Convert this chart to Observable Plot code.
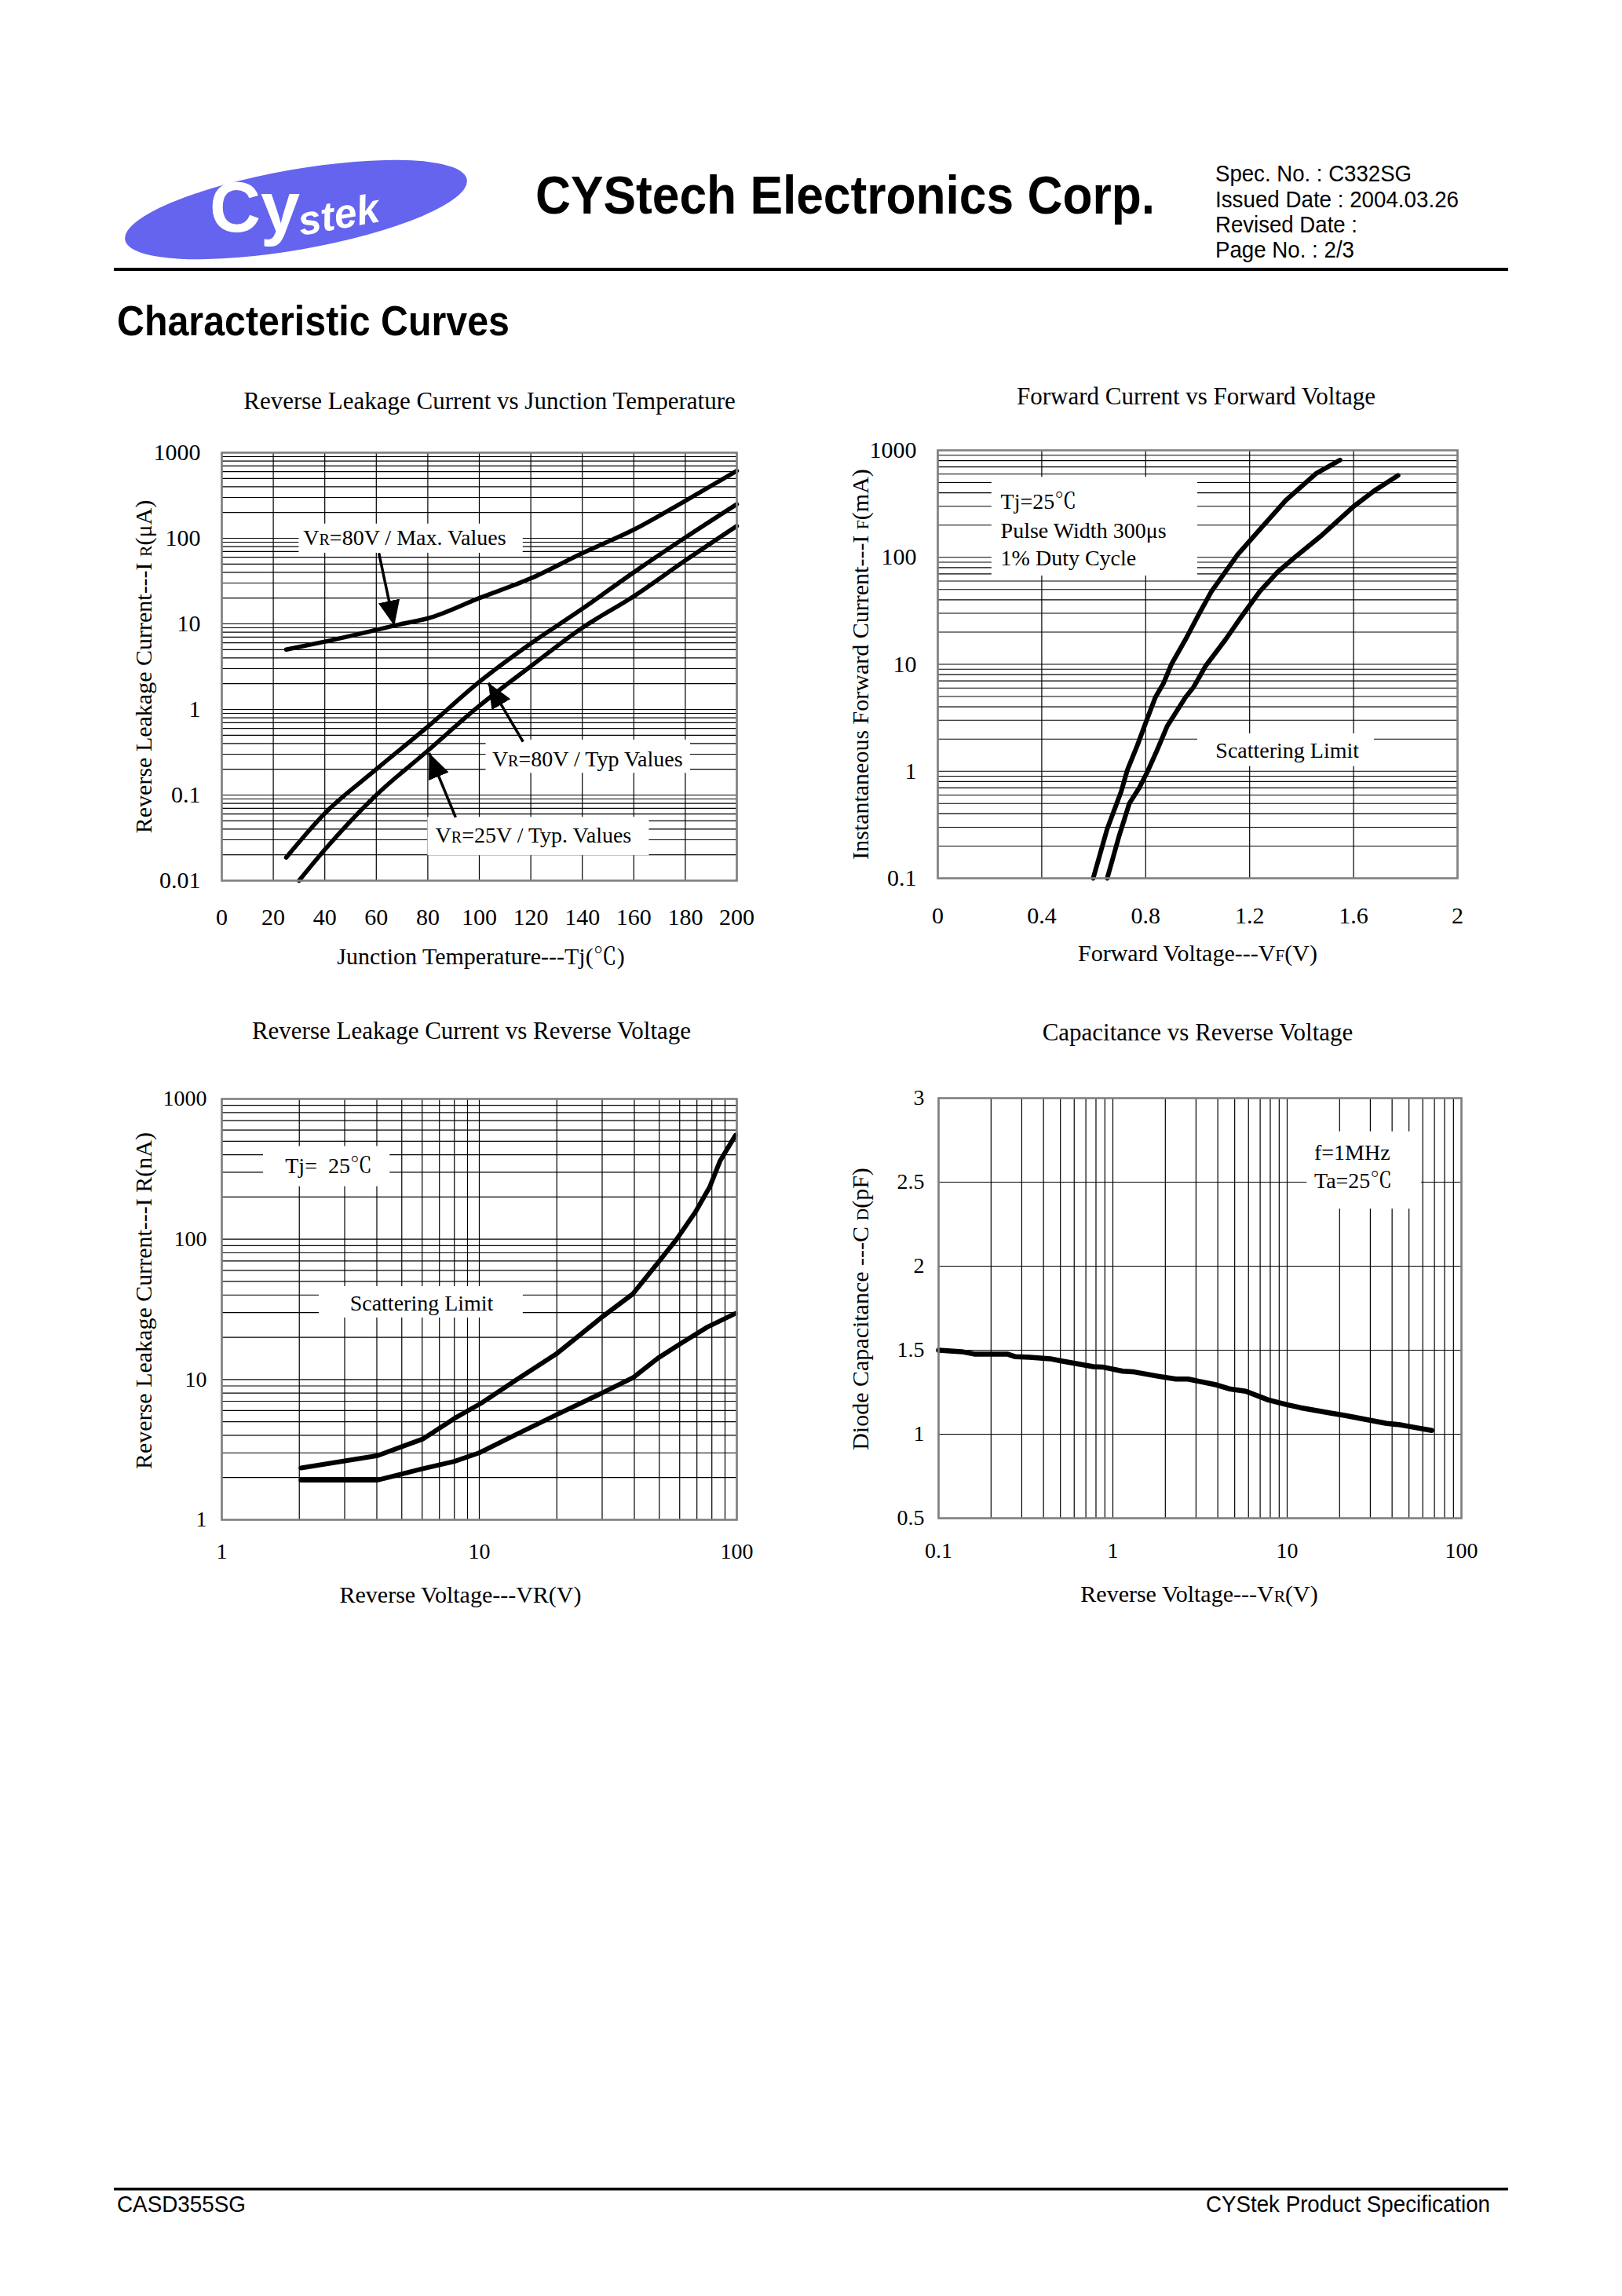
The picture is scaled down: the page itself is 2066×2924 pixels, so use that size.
<!DOCTYPE html>
<html>
<head>
<meta charset="utf-8">
<script src="https://cdn.jsdelivr.net/npm/d3@7"></script>
<script src="https://cdn.jsdelivr.net/npm/@observablehq/plot@0.6"></script>
<style>
  html, body { margin: 0; padding: 0; background: #fff; }
  body { width: 2066px; height: 2924px; position: relative; overflow: hidden; }
</style>
</head>
<body>
<svg id="page" width="2066" height="2924" style="position:absolute;left:0;top:0">
  <!-- company logo -->
  <ellipse cx="377" cy="267" rx="221" ry="51" fill="#6464ee" transform="rotate(-10 377 267)"/>
  <text x="267" y="295" font-family="'Liberation Sans', Arial, sans-serif" font-weight="bold" font-size="90" fill="#fff">Cy</text>
  <text transform="translate(383 300) rotate(-10)" font-family="'Liberation Sans', Arial, sans-serif" font-weight="bold" font-style="italic" font-size="52" fill="#fff">stek</text>
  <!-- header -->
  <text x="682" y="272" font-family="'Liberation Sans', Arial, sans-serif" font-weight="bold" font-size="68" textLength="789" lengthAdjust="spacingAndGlyphs">CYStech Electronics Corp.</text>
  <g font-family="'Liberation Sans', Arial, sans-serif" font-size="29">
    <text x="1548" y="231" textLength="250" lengthAdjust="spacingAndGlyphs">Spec. No. : C332SG</text>
    <text x="1548" y="264" textLength="310" lengthAdjust="spacingAndGlyphs">Issued Date : 2004.03.26</text>
    <text x="1548" y="296" textLength="181" lengthAdjust="spacingAndGlyphs">Revised Date :</text>
    <text x="1548" y="328" textLength="177" lengthAdjust="spacingAndGlyphs">Page No. : 2/3</text>
  </g>
  <rect x="145" y="341" width="1776" height="4" fill="#000"/>
  <text x="149" y="427" font-family="'Liberation Sans', Arial, sans-serif" font-weight="bold" font-size="54" textLength="500" lengthAdjust="spacingAndGlyphs">Characteristic Curves</text>
  <!-- footer -->
  <rect x="145" y="2786" width="1776" height="3.5" fill="#000"/>
  <g font-family="'Liberation Sans', Arial, sans-serif" font-size="29">
    <text x="149" y="2817" textLength="164" lengthAdjust="spacingAndGlyphs">CASD355SG</text>
    <text x="1898" y="2817" text-anchor="end" textLength="362" lengthAdjust="spacingAndGlyphs">CYStek Product Specification</text>
  </g>
</svg>
<script>
// ---------- Reverse leakage current vs junction temperature (µA) ----------
const tjTicks = [0, 20, 40, 60, 80, 100, 120, 140, 160, 180, 200];
const tjLeakTicks = [0.01, 0.1, 1, 10, 100, 1000];
const maxT = [25, 40, 60, 70, 80, 100, 120, 140, 160, 180, 200];
const maxI = [5.0, 6.2, 8.5, 10, 11.6, 20, 34, 67, 126, 274, 614];
const typ80T = [25, 40, 60, 80, 100, 120, 140, 160, 180, 200];
const typ80I = [0.0186, 0.061, 0.2, 0.63, 2.1, 5.9, 15, 40, 102, 250];
const typ25T = [30, 40, 60, 80, 100, 120, 140, 160, 180, 200];
const typ25I = [0.01, 0.023, 0.1, 0.33, 1.1, 3.2, 9, 21, 55, 139];
const tjNoteText = ["VR=80V / Max. Values", "VR=80V / Typ Values", "VR=25V / Typ. Values"];
const tjNoteT = [71, 142, 121];
const tjNoteI = [102, 0.26, 0.034];
const tjBoxT1 = [30, 102.6, 80];
const tjBoxT2 = [117, 182, 166];
const tjBoxI1 = [67, 0.18, 0.0196];
const tjBoxI2 = [147, 0.44, 0.055];
const tjArrowT1 = [61, 117, 90.8];
const tjArrowI1 = [67, 0.42, 0.055];
const tjArrowT2 = [67, 103.5, 80.5];
const tjArrowI2 = [9.5, 2.05, 0.31];

// ---------- Forward current vs forward voltage (mA) ----------
const vfTicks = [0, 0.4, 0.8, 1.2, 1.6, 2];
const ifTicks = [0.1, 1, 10, 100, 1000];
const fwdLowV = [0.598, 0.652, 0.706, 0.729, 0.768, 0.806, 0.837, 0.868, 0.899, 0.953, 1.0, 1.053, 1.154, 1.246, 1.339, 1.455, 1.548];
const fwdLowI = [0.1, 0.29, 0.65, 1.02, 1.75, 3.1, 4.9, 6.6, 10, 17, 28, 48, 106, 190, 340, 605, 810];
const fwdHighV = [0.652, 0.698, 0.737, 0.775, 0.806, 0.845, 0.883, 0.953, 0.984, 1.03, 1.107, 1.169, 1.239, 1.308, 1.378, 1.478, 1.601, 1.679, 1.771];
const fwdHighI = [0.1, 0.25, 0.5, 0.70, 0.98, 1.6, 2.65, 4.9, 6.1, 9.6, 17, 28, 48, 73, 102, 161, 300, 418, 583];
const fwdNoteText = ["Tj=25℃", "Pulse Width 300μs", "1% Duty Cycle"];
const fwdNoteV = [0.242, 0.242, 0.242];
const fwdNoteI = [333, 177, 98];
const fwdLimitText = ["Scattering Limit"];
const fwdLimitV = [1.345];
const fwdLimitI = [1.56];
const fwdBoxV1 = [0.208, 1.0];
const fwdBoxV2 = [1.0, 1.68];
const fwdBoxI1 = [67, 1.11];
const fwdBoxI2 = [560, 2.24];

// ---------- Reverse leakage current vs reverse voltage (nA) ----------
const vrTicks = [1, 10, 100];
const irTicks = [1, 10, 100, 1000];
const revHighV = [2.03, 4.03, 6.06, 8.0, 10.2, 14, 19.9, 29.9, 39.5, 49.4, 58.4, 69, 78.6, 86, 98.9];
const revHighI = [2.34, 2.87, 3.78, 5.28, 6.8, 10, 15.2, 27.8, 40.8, 68, 100, 156, 237, 360, 552];
const revLowV = [2.03, 4.03, 5.95, 8.0, 9.99, 14, 19.9, 29.9, 39.5, 49.4, 61.6, 77, 98.9];
const revLowI = [1.92, 1.92, 2.3, 2.61, 3.0, 4.08, 5.6, 8.0, 10.3, 14.2, 18.4, 23.7, 29.6];
const revNoteText = ["Tj=  25℃", "Scattering Limit"];
const revNoteV = [2.6, 5.97];
const revNoteI = [333, 34.8];
const revBoxV1 = [1.45, 2.39];
const revBoxV2 = [4.5, 14.8];
const revBoxI1 = [237, 27.5];
const revBoxI2 = [458, 46];

// ---------- Capacitance vs reverse voltage (pF) ----------
const capVTicks = [0.1, 1, 10, 100];
const capTicks = [0.5, 1, 1.5, 2, 2.5, 3];
const capV = [0.1, 0.136, 0.16, 0.248, 0.276, 0.333, 0.438, 0.5, 0.774, 0.87, 1.14, 1.3, 1.84, 2.3, 2.7, 3.95, 4.65, 5.78, 7.8, 9.96, 11.9, 17.4, 21.6, 29.9, 37.2, 43.8, 50.2, 67.6];
const capC = [1.5, 1.491, 1.477, 1.477, 1.461, 1.458, 1.449, 1.437, 1.402, 1.4, 1.375, 1.372, 1.344, 1.328, 1.328, 1.293, 1.27, 1.256, 1.204, 1.176, 1.158, 1.127, 1.111, 1.083, 1.064, 1.057, 1.046, 1.022];
const capNoteText = ["f=1MHz", "Ta=25℃"];
const capNoteV = [14.3, 14.3];
const capNoteC = [2.675, 2.505];
const capBoxV1 = [13];
const capBoxV2 = [59];
const capBoxC1 = [2.34];
const capBoxC2 = [2.80];

// ---------- helpers ----------
const serif = "'Liberation Serif', 'Times New Roman', 'Noto Serif CJK TC', 'Noto Sans CJK TC', serif";
const zip = (a, b) => a.map((v, i) => ({x: v, y: b[i]}));
const idx = (a) => a.map((_, i) => i);

// gridline values for a log axis: 1..9 × each decade
function logGrid(lo, hi) {
  const v = [];
  for (let e = Math.round(Math.log10(lo)); e < Math.round(Math.log10(hi)); e++)
    for (let k = 1; k < 10; k++) v.push(+(k * Math.pow(10, e)).toPrecision(3));
  v.push(hi);
  return v;
}

// draw the letter after V / I / C smaller, as in "VR", "I F", "C D"
function shrinkSubscripts(svg) {
  const ns = "http://www.w3.org/2000/svg";
  svg.querySelectorAll("text, tspan").forEach((node) => {
    if (node.children.length) return;
    const s = node.textContent;
    const re = /(V|I |C )([RFD])(?=[=(])/g;
    if (!re.test(s)) return;
    re.lastIndex = 0;
    node.textContent = "";
    let last = 0, m;
    while ((m = re.exec(s))) {
      const cut = m.index + m[1].length;
      node.appendChild(document.createTextNode(s.slice(last, cut)));
      const t = document.createElementNS(ns, "tspan");
      t.setAttribute("font-size", "0.72em");
      t.textContent = m[2];
      node.appendChild(t);
      last = cut + 1;
    }
    node.appendChild(document.createTextNode(s.slice(last)));
  });
}

// solid triangular arrowheads
function fillArrowheads(svg) {
  const ns = "http://www.w3.org/2000/svg";
  svg.querySelectorAll("marker").forEach((m) => {
    m.setAttribute("viewBox", "-10 -5 10 10");
    m.setAttribute("markerWidth", 9.2);
    m.setAttribute("markerHeight", 9.2);
    m.setAttribute("fill", "#000");
    m.setAttribute("stroke", "none");
    while (m.firstChild) m.removeChild(m.firstChild);
    const p = document.createElementNS(ns, "path");
    p.setAttribute("d", "M-10,-4.3L0,0L-10,4.3Z");
    m.appendChild(p);
  });
}

const M = {left: 140, right: 40, top: 110, bottom: 130};

function chart({frame, x, y, marks, fontSize, sub = true}) {
  const [fl, ft, fr, fb] = frame;
  const svg = Plot.plot({
    width: M.left + (fr - fl) + M.right,
    height: M.top + (fb - ft) + M.bottom,
    marginLeft: M.left, marginRight: M.right, marginTop: M.top, marginBottom: M.bottom,
    style: {fontFamily: serif, fontSize: fontSize + "px", background: "transparent", color: "#000", overflow: "visible"},
    x, y, marks
  });
  svg.style.position = "absolute";
  svg.style.left = (fl - M.left) + "px";
  svg.style.top = (ft - M.top) + "px";
  svg.style.maxWidth = "none";
  if (sub) shrinkSubscripts(svg);
  fillArrowheads(svg);
  document.body.appendChild(svg);
  return svg;
}

const gridStyle = {stroke: "#000", strokeWidth: 1.2, strokeOpacity: 1};
const frameMark = Plot.frame({stroke: "#7f7f7f", strokeWidth: 2.6});
const title = (t, dx, dy) => Plot.text([t], {frameAnchor: "top", text: (d) => d, dx, dy, textAnchor: "middle", lineAnchor: "middle", fontSize: 31});
const xLabel = (t, dx, dy) => Plot.text([t], {frameAnchor: "bottom", text: (d) => d, dx, dy, textAnchor: "middle", lineAnchor: "middle", fontSize: 30});
const yLabel = (t, dx, dy) => Plot.text([t], {frameAnchor: "left", text: (d) => d, dx, dy, rotate: -90, textAnchor: "middle", lineAnchor: "middle", fontSize: 30});
const boxes = (x1, x2, y1, y2) => Plot.rect(idx(x1), {x1: (i) => x1[i], x2: (i) => x2[i], y1: (i) => y1[i], y2: (i) => y2[i], fill: "#fff"});
const fmt = (d) => String(d);

// ---------- chart 1 ----------
chart({
  frame: [282, 576, 938, 1121],
  fontSize: 30,
  x: {domain: [0, 200], ticks: tjTicks, tickFormat: fmt, tickSize: 0, tickPadding: 35, label: null},
  y: {type: "log", domain: [0.01, 1000], ticks: tjLeakTicks, tickFormat: fmt, tickSize: 0, tickPadding: 27, label: null},
  marks: [
    Plot.ruleX(tjTicks, gridStyle),
    Plot.ruleY(logGrid(0.01, 1000), gridStyle),
    boxes(tjBoxT1, tjBoxT2, tjBoxI1, tjBoxI2),
    Plot.line(zip(maxT, maxI), {x: "x", y: "y", stroke: "#000", strokeWidth: 5.5, curve: "monotone-x"}),
    Plot.line(zip(typ80T, typ80I), {x: "x", y: "y", stroke: "#000", strokeWidth: 5.5, curve: "monotone-x"}),
    Plot.line(zip(typ25T, typ25I), {x: "x", y: "y", stroke: "#000", strokeWidth: 5.5, curve: "monotone-x"}),
    Plot.link(idx(tjArrowT1), {x1: (i) => tjArrowT1[i], y1: (i) => tjArrowI1[i], x2: (i) => tjArrowT2[i], y2: (i) => tjArrowI2[i], stroke: "#000", strokeWidth: 3.5, markerEnd: "arrow"}),
    Plot.text(idx(tjNoteText), {x: (i) => tjNoteT[i], y: (i) => tjNoteI[i], text: (i) => tjNoteText[i], fontSize: 28, lineAnchor: "middle"}),
    title("Reverse Leakage Current vs Junction Temperature", 13, -65),
    xLabel("Junction Temperature---Tj(℃)", 2, 97),
    yLabel("Reverse Leakage Current---I R(μA)", -99, 0),
    frameMark
  ]
});

// ---------- chart 2 ----------
chart({
  frame: [1194, 573, 1856, 1118],
  fontSize: 30,
  x: {domain: [0, 2], ticks: vfTicks, tickFormat: fmt, tickSize: 0, tickPadding: 36, label: null},
  y: {type: "log", domain: [0.1, 1000], ticks: ifTicks, tickFormat: fmt, tickSize: 0, tickPadding: 27, label: null},
  marks: [
    Plot.ruleX(vfTicks, gridStyle),
    Plot.ruleY(logGrid(0.1, 1000), gridStyle),
    boxes(fwdBoxV1, fwdBoxV2, fwdBoxI1, fwdBoxI2),
    Plot.line(zip(fwdLowV, fwdLowI), {x: "x", y: "y", stroke: "#000", strokeWidth: 6, strokeLinejoin: "round"}),
    Plot.line(zip(fwdHighV, fwdHighI), {x: "x", y: "y", stroke: "#000", strokeWidth: 6, strokeLinejoin: "round"}),
    Plot.text(idx(fwdNoteText), {x: (i) => fwdNoteV[i], y: (i) => fwdNoteI[i], text: (i) => fwdNoteText[i], fontSize: 28, textAnchor: "start", lineAnchor: "middle"}),
    Plot.text(idx(fwdLimitText), {x: (i) => fwdLimitV[i], y: (i) => fwdLimitI[i], text: (i) => fwdLimitText[i], fontSize: 28, lineAnchor: "middle"}),
    title("Forward Current vs Forward Voltage", -2, -68),
    xLabel("Forward Voltage---VF(V)", 0, 96),
    yLabel("Instantaneous Forward Current---I F(mA)", -98, 0),
    frameMark
  ]
});

// ---------- chart 3 ----------
chart({
  frame: [282, 1399, 938, 1935],
  fontSize: 28,
  sub: false,
  x: {type: "log", domain: [1, 100], ticks: vrTicks, tickFormat: fmt, tickSize: 0, tickPadding: 30, label: null},
  y: {type: "log", domain: [1, 1000], ticks: irTicks, tickFormat: fmt, tickSize: 0, tickPadding: 19, label: null},
  marks: [
    Plot.ruleX(logGrid(1, 100), gridStyle),
    Plot.ruleY(logGrid(1, 1000), gridStyle),
    boxes(revBoxV1, revBoxV2, revBoxI1, revBoxI2),
    Plot.line(zip(revHighV, revHighI), {x: "x", y: "y", stroke: "#000", strokeWidth: 6, strokeLinejoin: "round"}),
    Plot.line(zip(revLowV, revLowI), {x: "x", y: "y", stroke: "#000", strokeWidth: 6, strokeLinejoin: "round"}),
    Plot.text(idx(revNoteText), {x: (i) => revNoteV[i], y: (i) => revNoteI[i], text: (i) => revNoteText[i], fontSize: 28, lineAnchor: "middle"}),
    title("Reverse Leakage Current vs Reverse Voltage", -10, -86),
    xLabel("Reverse Voltage---VR(V)", -24, 96),
    yLabel("Reverse Leakage Current---I R(nA)", -99, -11),
    frameMark
  ]
});

// ---------- chart 4 ----------
chart({
  frame: [1195, 1398, 1861, 1933],
  fontSize: 28,
  x: {type: "log", domain: [0.1, 100], ticks: capVTicks, tickFormat: fmt, tickSize: 0, tickPadding: 31, label: null},
  y: {domain: [0.5, 3], ticks: capTicks, tickFormat: fmt, tickSize: 0, tickPadding: 18, label: null},
  marks: [
    Plot.ruleX(logGrid(0.1, 100), gridStyle),
    Plot.ruleY(capTicks, gridStyle),
    boxes(capBoxV1, capBoxV2, capBoxC1, capBoxC2),
    Plot.line(zip(capV, capC), {x: "x", y: "y", stroke: "#000", strokeWidth: 6.5, strokeLinejoin: "round"}),
    Plot.text(idx(capNoteText), {x: (i) => capNoteV[i], y: (i) => capNoteC[i], text: (i) => capNoteText[i], fontSize: 28, textAnchor: "start", lineAnchor: "middle"}),
    title("Capacitance vs Reverse Voltage", -3, -83),
    xLabel("Reverse Voltage---VR(V)", -1, 97),
    yLabel("Diode Capacitance ---C D(pF)", -99, 1),
    frameMark
  ]
});
</script>
</body>
</html>
